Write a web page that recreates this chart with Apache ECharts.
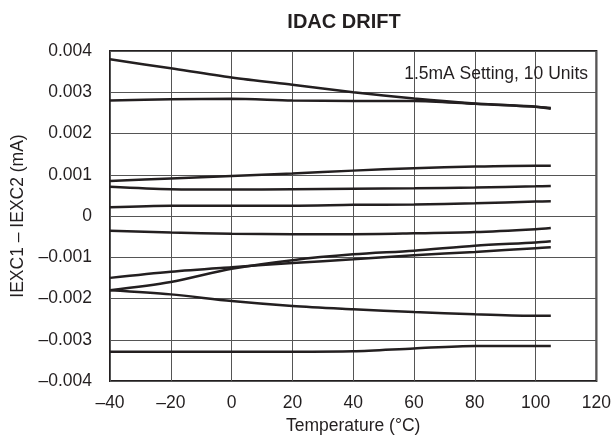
<!DOCTYPE html>
<html>
<head>
<meta charset="utf-8">
<title>IDAC DRIFT</title>
<script src="https://cdn.jsdelivr.net/npm/echarts@6/dist/echarts.min.js"></script>
<style>
  html, body { margin: 0; padding: 0; background: #fff; }
  #main { width: 614px; height: 441px; }
</style>
</head>
<body>
<div id="main"></div>
<script>
// temperatures (°C) where the curves were read
var temps = [-40, -20, 0, 20, 40, 60, 80, 100, 105];

// IEXC1 - IEXC2 (mA), one array per unit
var unit1 = [0.0038, 0.00358, 0.00336, 0.00318, 0.0030, 0.00285, 0.00273, 0.00265, 0.00262];
var unit2 = [0.0028, 0.00283, 0.00284, 0.0028, 0.00279, 0.00279, 0.00272, 0.00265, 0.0026];
var unit3 = [0.00085, 0.00091, 0.00097, 0.00103, 0.0011, 0.00116, 0.0012, 0.00122, 0.00122];
var unit4 = [0.00071, 0.00065, 0.00064, 0.00065, 0.00066, 0.00067, 0.00069, 0.00072, 0.00073];
var unit5 = [0.00021, 0.00025, 0.00025, 0.00025, 0.00027, 0.00028, 0.00031, 0.00035, 0.00036];
var unit6 = [-0.00036, -0.0004, -0.00043, -0.00044, -0.00044, -0.00042, -0.00039, -0.00032, -0.00029];
var unit7 = [-0.0015, -0.00135, -0.00124, -0.00114, -0.00105, -0.00095, -0.00087, -0.00078, -0.00076];
var unit8 = [-0.0018, -0.0016, -0.00128, -0.00107, -0.00093, -0.00084, -0.00072, -0.00064, -0.00061];
var unit9 = [-0.0018, -0.0019, -0.00206, -0.00218, -0.00226, -0.00233, -0.00238, -0.00242, -0.00242];
var unit10 = [-0.00329, -0.00329, -0.00329, -0.00329, -0.00328, -0.00321, -0.00315, -0.00315, -0.00315];

// tick labels (en dash for minus, like the datasheet)
var xTicks = [-40, -20, 0, 20, 40, 60, 80, 100, 120];
var xTickLabels = ['–40', '–20', '0', '20', '40', '60', '80', '100', '120'];
var yTicks = [-0.004, -0.003, -0.002, -0.001, 0, 0.001, 0.002, 0.003, 0.004];
var yTickLabels = ['–0.004', '–0.003', '–0.002', '–0.001', '0', '0.001', '0.002', '0.003', '0.004'];

var units = [unit1, unit2, unit3, unit4, unit5, unit6, unit7, unit8, unit9, unit10];

function pairs(vals) {
  return vals.map(function (v, i) { return [temps[i], v]; });
}

function labelFor(ticks, labels, v) {
  for (var i = 0; i < ticks.length; i++) {
    if (Math.abs(ticks[i] - v) < 1e-9) return labels[i];
  }
  return '';
}

var ink = '#231f20';
var font = 'Liberation Sans, Arial, Helvetica, sans-serif';
var fs = 17.5;

var chartDom = document.getElementById('main');
var myChart = echarts.init(chartDom);

var option = {
  backgroundColor: '#fff',
  animation: false,
  textStyle: { fontFamily: font },
  title: [
    {
      text: 'IDAC DRIFT',
      left: 339,
      textAlign: 'center',
      top: 7,
      textStyle: { fontFamily: font, fontSize: 20, fontWeight: 'bold', color: ink }
    },
    {
      text: '1.5mA Setting, 10 Units',
      right: 21,
      top: 60,
      textStyle: { fontFamily: font, fontSize: fs, fontWeight: 'normal', color: ink }
    }
  ],
  grid: {
    left: 110,
    right: 17,
    top: 51,
    bottom: 60,
    show: true,
    borderColor: ink,
    borderWidth: 2,
    backgroundColor: 'transparent'
  },
  xAxis: {
    type: 'value',
    min: -40,
    max: 120,
    interval: 20,
    name: 'Temperature (°C)',
    nameLocation: 'middle',
    nameGap: 31,
    nameTextStyle: { fontFamily: font, fontSize: fs, color: ink },
    axisLine: { show: false },
    axisTick: { show: false },
    axisLabel: {
      fontFamily: font, fontSize: fs, color: ink, margin: 13,
      formatter: function (v) { return labelFor(xTicks, xTickLabels, v); }
    },
    splitLine: { show: true, lineStyle: { color: '#555', width: 1 } }
  },
  yAxis: {
    type: 'value',
    min: -0.004,
    max: 0.004,
    interval: 0.001,
    name: 'IEXC1 – IEXC2 (mA)',
    nameLocation: 'middle',
    nameRotate: 90,
    nameGap: 82,
    nameTextStyle: { fontFamily: font, fontSize: fs, color: ink },
    axisLine: { show: false },
    axisTick: { show: false },
    axisLabel: {
      fontFamily: font, fontSize: fs, color: ink, margin: 18,
      formatter: function (v) { return labelFor(yTicks, yTickLabels, v); }
    },
    splitLine: { show: true, lineStyle: { color: '#555', width: 1 } }
  },
  series: units.map(function (u, i) {
    return {
      name: 'Unit ' + (i + 1),
      type: 'line',
      data: pairs(u),
      smooth: 0.3,
      symbol: 'none',
      lineStyle: { color: ink, width: 2.5 },
      z: 3
    };
  })
};

myChart.setOption(option);
</script>
</body>
</html>
